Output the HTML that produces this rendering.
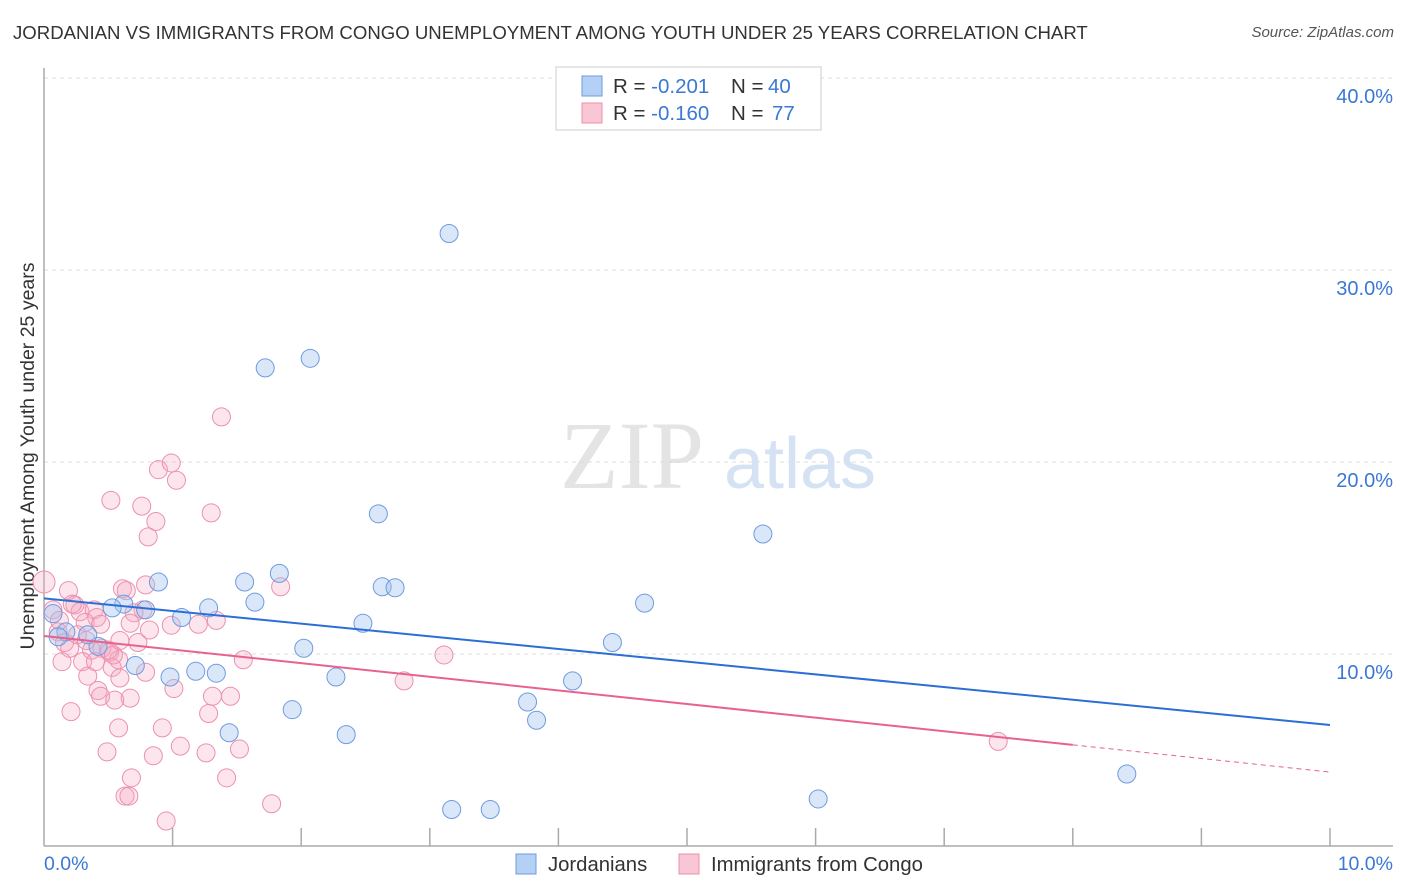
<!DOCTYPE html>
<html><head><meta charset="utf-8">
<style>
body{margin:0;background:#fff;font-family:"Liberation Sans",sans-serif;}
#wrap{position:relative;width:1406px;height:892px;overflow:hidden;}
.title{position:absolute;left:13px;top:22px;font-size:18.6px;color:#333;letter-spacing:0px;white-space:nowrap;}
.source{position:absolute;right:12px;top:24px;font-size:15px;color:#555;font-style:italic;}
</style></head><body>
<div id="wrap">
<div class="title">JORDANIAN VS IMMIGRANTS FROM CONGO UNEMPLOYMENT AMONG YOUTH UNDER 25 YEARS CORRELATION CHART</div>
<div class="source">Source: ZipAtlas.com</div>
<svg id="svg" width="1406" height="892" style="position:absolute;left:0;top:0"></svg>
</div>
<script>
const yTicks=[10,20,30,40];
const yTickLabels=["10.0%","20.0%","30.0%","40.0%"];
const xTickLabels=["0.0%","10.0%"];
const blueX=[3.15,1.72,2.07,2.60,5.59,0.89,1.56,1.83,2.63,2.73,0.62,0.79,0.53,1.07,1.28,1.64,4.67,2.48,0.07,4.42,2.02,0.42,0.34,0.17,0.11,0.71,0.98,1.18,1.34,2.27,4.11,1.93,1.44,2.35,3.76,3.83,8.42,3.17,3.47,6.02];
const blueY=[31.9,24.9,25.4,17.3,16.25,13.75,13.75,14.2,13.5,13.45,12.6,12.3,12.4,11.9,12.4,12.7,12.65,11.6,12.1,10.6,10.3,10.4,11.0,11.15,10.9,9.4,8.8,9.1,9.0,8.8,8.6,7.1,5.9,5.8,7.5,6.55,3.75,1.9,1.9,2.45];
const pinkX=[0,0.07,0.19,0.24,0.28,0.39,0.41,0.32,0.11,0.16,0.2,0.26,0.33,0.37,0.45,0.51,0.58,0.14,0.3,0.34,0.42,0.44,0.53,0.59,0.5,0.54,0.21,0.49,0.58,0.67,0.61,0.64,0.79,0.77,0.7,0.67,0.73,0.79,0.52,0.76,0.87,0.81,0.89,0.99,1.03,1.3,1.38,1.84,0.99,1.2,1.34,1.01,1.31,1.28,1.45,1.55,0.92,0.85,1.06,1.26,1.52,0.68,1.42,0.63,0.66,1.77,0.95,3.11,2.8,7.42,0.22,0.44,0.59,0.4,0.82,0.12,0.55];
const pinkY=[13.75,12.3,13.3,12.55,12.2,12.3,11.9,11.65,11.15,10.6,10.3,11.0,10.7,10.2,10.3,10.1,9.7,9.6,9.6,8.85,8.1,7.8,9.3,8.75,10.2,9.95,7.0,4.9,6.15,7.7,13.4,13.3,13.6,12.3,12.15,11.6,10.6,9.05,18.0,17.7,16.9,16.1,19.6,19.95,19.05,17.35,22.35,13.5,11.5,11.55,11.75,8.2,7.8,6.9,7.8,9.7,6.15,4.7,5.2,4.85,5.05,3.55,3.55,2.6,2.6,2.2,1.3,9.95,8.6,5.45,12.6,11.55,10.7,9.6,11.25,11.75,7.6];
const blueTrend=[12.9,6.3];
const pinkTrend=[10.94,3.85];
const pinkSolidEnd=8.0;

const NS="http://www.w3.org/2000/svg";
const svg=document.getElementById('svg');
const X0=44,X1=1330,Y0=846,PXY=19.2;
const sx=v=>X0+v*(X1-X0)/10;
const sy=v=>Y0-v*PXY;
function mk(tag,attrs,parent){const e=document.createElementNS(NS,tag);for(const k in attrs)e.setAttribute(k,attrs[k]);(parent||svg).appendChild(e);return e;}

let wm=mk('text',{x:632,y:488,'font-size':96,'font-family':'Liberation Serif',fill:'#e4e4e4','text-anchor':'middle'});
wm.textContent='ZIP';


let wm2=mk('text',{x:800,y:488,'font-size':72,'font-family':'Liberation Sans',fill:'#d4e2f4','text-anchor':'middle'});
wm2.textContent='atlas';



yTicks.forEach((t,i)=>{
 let g=mk('line',{x1:X0,x2:1393,y1:sy(t),y2:sy(t),stroke:'#ddd','stroke-dasharray':'4,4'});
 
 
 let l=mk('text',{x:1393,y:sy(t)+25,'font-size':20,fill:'#3a78d4','text-anchor':'end'});
 l.textContent=yTickLabels[i];
 
 
});
let ya=mk('line',{x1:X0,x2:X0,y1:68,y2:846,stroke:'#aaa','stroke-width':1.5});


let xa=mk('line',{x1:X0,x2:1393,y1:846,y2:846,stroke:'#aaa','stroke-width':1.5});


for(let i=1;i<=10;i++){
 let t=mk('line',{x1:sx(i),x2:sx(i),y1:828,y2:846,stroke:'#aaa','stroke-width':1.5});
 
 
}
let xl0=mk('text',{x:44,y:870,'font-size':19.5,fill:'#3a78d4'});xl0.textContent=xTickLabels[0];


let xl1=mk('text',{x:1393,y:870,'font-size':19.5,fill:'#3a78d4','text-anchor':'end'});xl1.textContent=xTickLabels[1];


let yt=mk('text',{x:0,y:0,'font-size':19.5,fill:'#333','text-anchor':'middle',transform:'translate(34,456) rotate(-90)'});
yt.textContent='Unemployment Among Youth under 25 years';



pinkX.forEach((x,i)=>{
 let c=mk('circle',{cx:sx(x),cy:sy(pinkY[i]),r:i===0?11:9,fill:'rgba(245,168,195,0.3)',stroke:'#ec91ae','stroke-width':1});
 
 
});
blueX.forEach((x,i)=>{
 let c=mk('circle',{cx:sx(x),cy:sy(blueY[i]),r:9,fill:'rgba(160,195,240,0.4)',stroke:'#6f9be0','stroke-width':1});
 
 
});
let bt=mk('line',{x1:sx(0),y1:sy(blueTrend[0]),x2:sx(10),y2:sy(blueTrend[1]),stroke:'#2b6fd6','stroke-width':2});


const pAt=x=>pinkTrend[0]+(pinkTrend[1]-pinkTrend[0])*x/10;
let pt=mk('line',{x1:sx(0),y1:sy(pinkTrend[0]),x2:sx(pinkSolidEnd),y2:sy(pAt(pinkSolidEnd)),stroke:'#e8628f','stroke-width':2});


let pd=mk('line',{x1:sx(pinkSolidEnd),y1:sy(pAt(pinkSolidEnd)),x2:sx(10),y2:sy(pinkTrend[1]),stroke:'#e8628f','stroke-width':1,'stroke-dasharray':'5,4'});



let lb=mk('rect',{x:556,y:67,width:265,height:63,fill:'#fff',stroke:'#ccc'});


[[0,'#b5d0f5','#6f9be0','-0.201','40'],[1,'#f9c6d6','#ec91ae','-0.160','77']].forEach(r=>{
 const y=86+r[0]*27;
 let s=mk('rect',{x:582,y:y-10,width:20,height:20,fill:r[1],stroke:r[2]});
 
 
 let t=mk('text',{x:613,y:y+7,'font-size':20.5,fill:'#333'});
 t.innerHTML='R = <tspan fill="#3a78d4">'+r[3]+'</tspan><tspan x="731">N = </tspan><tspan x="'+(r[4]==='40'?768:772)+'" fill="#3a78d4">'+r[4]+'</tspan>';
 
 
});
[[516,'#b5d0f5','#6f9be0','Jordanians','legend-jordanians'],[679,'#f9c6d6','#ec91ae','Immigrants from Congo','legend-congo']].forEach(r=>{
 let s=mk('rect',{x:r[0],y:854,width:20,height:20,fill:r[1],stroke:r[2]});
 
 
 let t=mk('text',{x:r[0]+32,y:871,'font-size':20.3,fill:'#333'});
 t.textContent=r[3];
 
 
});
</script>
</body></html>
